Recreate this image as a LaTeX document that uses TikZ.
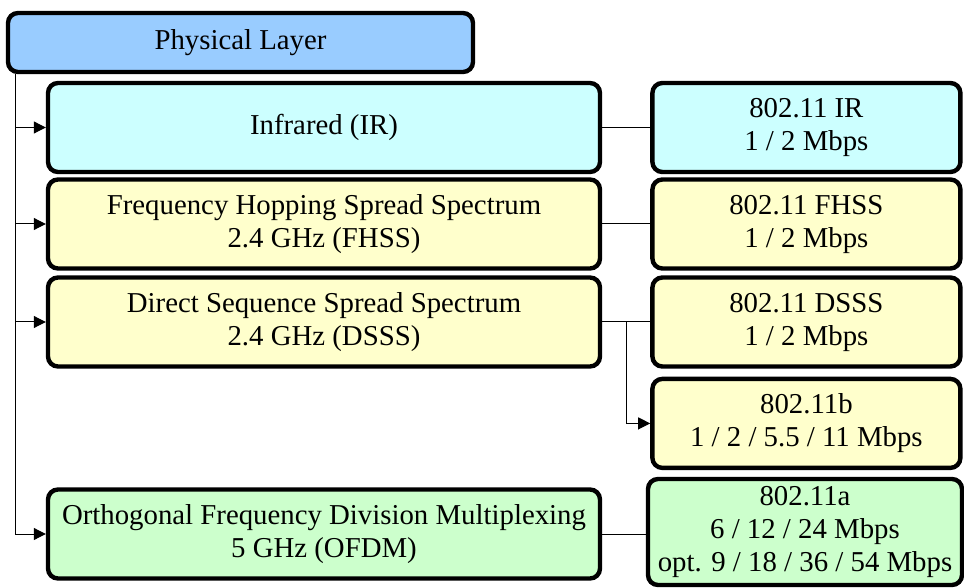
\documentclass[tikz,border=0pt]{standalone}
\usepackage{fontspec}
\setmainfont{Liberation Serif}
\usetikzlibrary{positioning, arrows.meta}
\definecolor{layerblue}{HTML}{99CCFF}
\definecolor{ircyan}{HTML}{CCFFFF}
\definecolor{dsyellow}{HTML}{FFFFCC}
\definecolor{ofgreen}{HTML}{CCFFCC}

\begin{document}
\begin{tikzpicture}[x=0.5pt,y=-0.5pt,font=\fontsize{14.4}{16.5}\selectfont,
  >={Triangle[length=6pt,width=6pt]},node distance=24pt,line width=0.5pt,
  bx/.style={draw,line width=2.2pt,rounded corners=5pt,align=center,inner sep=0pt,minimum height=44.5pt},
  lbx/.style={bx,minimum width=276pt},rbx/.style={bx,minimum width=154pt}]
  \useasboundingbox (0,0) rectangle (964,588);
  \node[bx,fill=layerblue,minimum width=232.5pt,minimum height=29.5pt](phy) at (240.5,42.5){Physical Layer};
  \node[lbx,fill=ircyan](ir) at (324,127.5){Infrared (IR)};
  \node[rbx,fill=ircyan,right=of ir](irstd){802.11 IR\\ 1 / 2 Mbps};
  \node[lbx,fill=dsyellow](fhss) at (324,224){Frequency Hopping Spread Spectrum\\ 2.4 GHz (FHSS)};
  \node[rbx,fill=dsyellow,right=of fhss](fhssstd){802.11 FHSS\\ 1 / 2 Mbps};
  \node[lbx,fill=dsyellow](dsss) at (324,322){Direct Sequence Spread Spectrum\\ 2.4 GHz (DSSS)};
  \node[rbx,fill=dsyellow,right=of dsss](dsssstd){802.11 DSSS\\ 1 / 2 Mbps};
  \node[rbx,fill=dsyellow,below=4pt of dsssstd](dsssb){802.11b\\ 1 / 2 / 5.5 / 11 Mbps};
  \node[lbx,fill=ofgreen](ofdm) at (324,534){Orthogonal Frequency Division Multiplexing\\ 5 GHz (OFDM)};
  \node[bx,fill=ofgreen,minimum width=157pt,minimum height=53pt](ofdmstd) at (805,532){802.11a\\ 6 / 12 / 24 Mbps\\ opt. 9 / 18 / 36 / 54 Mbps};
  \draw[->]([xshift=5pt]phy.south west)|-(ir.west);
  \draw[->]([xshift=5pt]phy.south west)|-(fhss.west);
  \draw[->]([xshift=5pt]phy.south west)|-(dsss.west);
  \draw[->]([xshift=5pt]phy.south west)|-(ofdm.west);
  \draw(ir)--(irstd);\draw(fhss)--(fhssstd);\draw(dsss)--(dsssstd);
  \draw[->]([xshift=12pt]dsss.east)|-(dsssb.west);
  \draw(ofdm.east)--(ofdm.east-|ofdmstd.west);
\end{tikzpicture}
\end{document}
